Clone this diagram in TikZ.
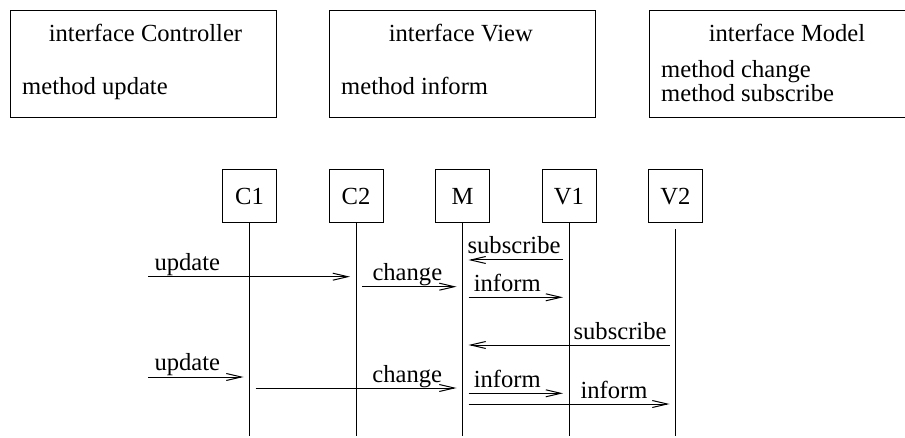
\documentclass[tikz,border=0pt]{standalone}
\usepackage{fontspec}
\setmainfont{Liberation Serif}
\usetikzlibrary{arrows.meta}

\begin{document}
\begin{tikzpicture}[x=0.5pt, y=-0.5pt,
font=\fontsize{12.3pt}{14.5pt}\selectfont,
line width=0.5pt,
node distance=53.25pt,
iface/.style={draw, minimum width=133pt, minimum height=53.3pt, inner sep=0pt, anchor=north west},
obj/.style={draw, minimum width=27pt, minimum height=26.5pt, inner sep=0pt},
txt/.style={inner sep=0pt, anchor=base west},
msg/.style={-{Straight Barb[length=7.5pt,width=3.5pt]}, shorten <=3pt, shorten >=3pt},
lbl/.style={inner sep=0pt, yshift=3pt}
]
\useasboundingbox (0,0) rectangle (905,438);
%Interfaces
\node[iface]     (ctrl)                at (10,10)       {};
\node[iface]     (view)                at (329.3,10)    {};
\node[iface]     (model)               at (649.3,10)    {};
\node[txt]       (ctrl title)          at (48.3,41.7)   {interface Controller};
\node[txt]       (ctrl update)         at (21.7,95)     {method update};
\node[txt]       (view title)          at (388.3,41.7)  {interface View};
\node[txt]       (view inform)         at (340.7,95)    {method inform};
\node[txt]       (model title)         at (708.3,42)    {interface Model};
\node[txt]       (model change)        at (660.7,77.3)  {method change};
\node[txt]       (model subscribe)     at (660.7,101.7) {method subscribe};
%Objects
\node[obj]       (C1)                  at (249.5,196.3) {C1};
\node[obj]       (C2)     [right of=C1]                 {C2};
\node[obj]       (M)      [right of=C2]                 {M};
\node[obj]       (V1)     [right of=M]                  {V1};
\node[obj]       (V2)     [right of=V1]                 {V2};
%Lifelines
\draw (C1.south) -- (C1 |- 0,436);
\draw (C2.south) -- (C2 |- 0,436);
\draw (M.south)  -- (M |- 0,436);
\draw (V1.south) -- (V1 |- 0,436);
\draw ([yshift=-3pt]V2.south) -- (V2 |- 0,436);
%Messages
\coordinate (in1) at (148,276.7);
\coordinate (in2) at (148,377);
\draw[msg] (V1 |- 0,260) -- (M |- 0,260) node [lbl, pos=0, anchor=base east, xshift=-4pt] {subscribe};
\draw[msg, shorten <=0pt] (in1) -- (C2 |- in1) node [lbl, pos=0, anchor=base west, xshift=3pt] {update};
\draw[msg] (C2 |- 0,286.7) -- (M |- 0,286.7) node [lbl, pos=0, anchor=base west, xshift=8pt] {change};
\draw[msg] (M |- 0,297.3) -- (V1 |- 0,297.3) node [lbl, pos=0, anchor=base west, xshift=5.4pt] {inform};
\draw[msg] (V2 |- 0,345) -- (M |- 0,345) node [lbl, pos=0, anchor=base east, xshift=-4.25pt] {subscribe};
\draw[msg, shorten <=0pt] (in2) -- (C1 |- in2) node [lbl, pos=0, anchor=base west, xshift=3pt] {update};
\draw[msg] (C1 |- 0,388) -- (M |- 0,388) node [lbl, pos=0.575, anchor=base west] {change};
\draw[msg] (M |- 0,393.3) -- (V1 |- 0,393.3) node [lbl, pos=0, anchor=base west, xshift=5.4pt] {inform};
\draw[msg] (M |- 0,404) -- (V2 |- 0,404) node [lbl, pos=0.552, anchor=base west] {inform};
\end{tikzpicture}
\end{document}
